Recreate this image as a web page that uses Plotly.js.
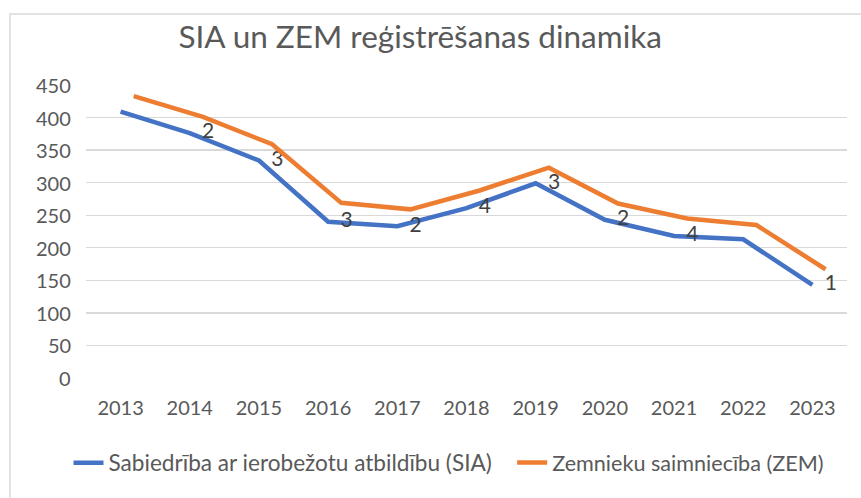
<!DOCTYPE html>
<html>
<head>
<meta charset="utf-8">
<script src="https://cdn.plot.ly/plotly-3.0.1.min.js"></script>
<style>
  html, body { margin: 0; padding: 0; background: #fff; }
  #wrap { position: relative; width: 861px; height: 498px; }
  #frame { position: absolute; left: 9px; top: 13px; right: 0; bottom: 0;
           border-left: 2px solid #e3e3e3; border-top: 2px solid #e3e3e3; }
  #chart { position: absolute; left: 0; top: 0; width: 861px; height: 498px; }
</style>
</head>
<body>
<div id="wrap">
  <div id="frame"></div>
  <div id="chart"></div>
</div>
<script>
const years = ['2013','2014','2015','2016','2017','2018','2019','2020','2021','2022','2023'];
const siaValues = [409, 376, 334, 240, 233, 261, 299, 243, 218, 213, 143];
const zemValues = [433, 401, 359, 269, 259, 288, 323, 268, 245, 235, 167];
const siaLabels = ['', '2', '3', '3', '2', '4', '3', '2', '4', '', '1'];
const siaName = 'Sabiedrība ar ierobežotu atbildību (SIA)';
const zemName = 'Zemnieku saimniecība (ZEM)';
const yTicks = [0, 50, 100, 150, 200, 250, 300, 350, 400, 450];

const FONT = 'Lato, "Open Sans", sans-serif';
const GREY = '#595959';

const traces = [
  {
    x: years, y: siaValues, name: siaName, type: 'scatter', mode: 'lines+markers+text',
    line: { color: '#4472C4', width: 4.5 },
    marker: { size: 18, color: 'rgba(0,0,0,0)', line: { width: 0 } },
    text: siaLabels, textposition: 'middle right',
    textfont: { family: FONT, size: 21, color: '#404040' },
    hoverinfo: 'x+y', legend: 'legend'
  },
  {
    x: years, y: zemValues, name: zemName, type: 'scatter', mode: 'lines',
    xaxis: 'x2',
    line: { color: '#ED7D31', width: 4.5 },
    hoverinfo: 'x+y', legend: 'legend2'
  }
];

// y-axis tick labels placed at the axis values via the y scale
const yTickLabels = yTicks.map(v => ({
  xref: 'paper', x: 0, xanchor: 'right', xshift: -13,
  yref: 'y', y: v, yanchor: 'middle',
  text: String(v), showarrow: false,
  font: { family: FONT, size: 20, color: GREY }
}));

const legendBase = { orientation: 'h', y: -0.29, yanchor: 'middle', xanchor: 'left',
                     itemwidth: 30, bgcolor: 'rgba(0,0,0,0)' };

const layout = {
  width: 861, height: 498,
  paper_bgcolor: 'rgba(0,0,0,0)', plot_bgcolor: 'rgba(0,0,0,0)',
  margin: { l: 86, r: 14, t: 85, b: 120 },
  font: { family: FONT, color: GREY, size: 20 },
  title: { text: 'SIA un ZEM reģistrēšanas dinamika', x: 0.488, xanchor: 'center',
           y: 0.925, yanchor: 'middle', font: { family: FONT, size: 31.5, color: GREY } },
  xaxis: {
    type: 'category', range: [-0.5, 10.5], showgrid: false, zeroline: false,
    showline: false, ticks: '', ticklabelstandoff: 16,
    tickfont: { family: FONT, size: 20, color: GREY }, fixedrange: true
  },
  xaxis2: {
    type: 'category', overlaying: 'x', range: [-0.69, 10.31], visible: false, fixedrange: true
  },
  yaxis: {
    range: [0, 450], tickvals: yTicks, showgrid: true, gridcolor: '#d9d9d9', gridwidth: 1.3,
    zeroline: false, showline: false, ticks: '', showticklabels: false, fixedrange: true
  },
  annotations: yTickLabels,
  showlegend: true,
  legend: Object.assign({}, legendBase, { x: -0.023, font: { family: FONT, size: 22.6, color: GREY } }),
  legend2: Object.assign({}, legendBase, { x: 0.560, font: { family: FONT, size: 21.6, color: GREY } })
};

Plotly.newPlot('chart', traces, layout, { displayModeBar: false, staticPlot: true });
</script>
</body>
</html>
